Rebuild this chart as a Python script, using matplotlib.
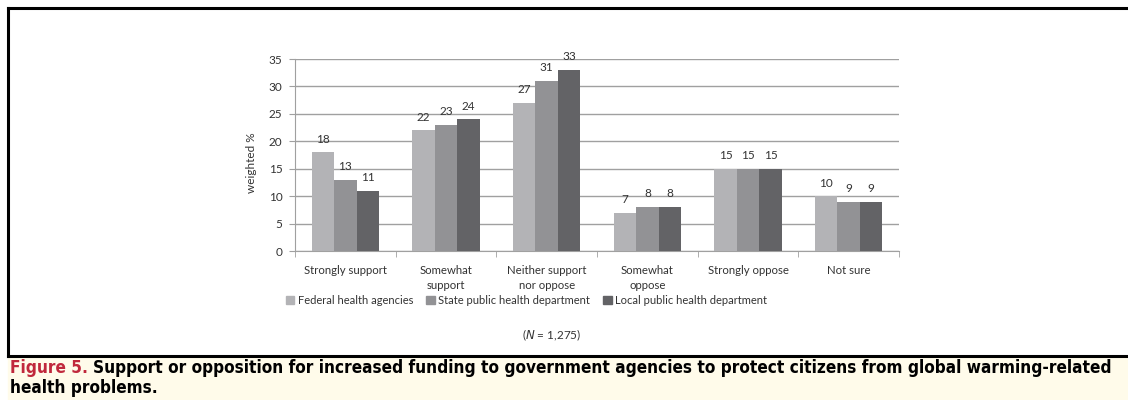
import matplotlib.pyplot as plt
import numpy as np
from matplotlib.patches import Rectangle
from matplotlib.lines import Line2D

categories = ["Strongly support", "Somewhat\nsupport", "Neither support\nnor oppose",
              "Somewhat\noppose", "Strongly oppose", "Not sure"]
federal = [18, 22, 27, 7, 15, 10]
state = [13, 23, 31, 8, 15, 9]
local = [11, 24, 33, 8, 15, 9]
series_names = ["Federal health agencies", "State public health department",
                "Local public health department"]
colors = ["#b3b3b6", "#929295", "#636366"]
txt = '#333333'

plt.rcParams['font.family'] = ['Lato', 'DejaVu Sans']

fig = plt.figure(figsize=(11.28, 4.0), dpi=100)
ax = fig.add_axes([295 / 1128, 149 / 400, 604 / 1128, 192 / 400])

x = np.arange(len(categories))
w = 0.224
for i, vals in enumerate([federal, state, local]):
    bars = ax.bar(x + (i - 1) * w, vals, w, color=colors[i], zorder=3, label=series_names[i])
    for b, v in zip(bars, vals):
        ax.annotate(str(v), (b.get_x() + b.get_width() / 2, v), xytext=(0, 5.5),
                    textcoords='offset points', ha='center', va='bottom',
                    fontsize=8.5, color=txt)

ax.set_xlim(-0.5, len(categories) - 0.5)
ax.set_ylim(0, 35)
ax.set_yticks(range(0, 36, 5))
ax.yaxis.grid(True, color='#a0a0a0', linewidth=1, zorder=0)
ax.set_xticks(x)
ax.set_xticklabels(categories, fontsize=8.2, color=txt, linespacing=1.45)
ax.set_xticks(np.arange(-0.5, len(categories)), minor=True)
ax.tick_params(axis='x', which='major', length=0, pad=10)
ax.tick_params(axis='x', which='minor', length=4, color='#a0a0a0', direction='out')
ax.tick_params(axis='y', length=4, color='#a0a0a0', labelsize=8.5, labelcolor=txt, pad=5)
for s in ['top', 'right']:
    ax.spines[s].set_visible(False)
for s in ['left', 'bottom']:
    ax.spines[s].set_color('#a0a0a0')
ax.set_ylabel("weighted %", fontsize=8.5, color=txt)
ax.yaxis.set_label_coords(-0.063, 0.46)

handles = [Rectangle((0, 0), 1, 1, color=c) for c in colors]
leg = fig.legend(handles, series_names, loc='center left',
                 bbox_to_anchor=(286 / 1128, 1 - 300 / 400),
                 ncol=3, frameon=False, fontsize=8, handlelength=0.75, handleheight=0.75,
                 handletextpad=0.3, columnspacing=1.2, borderaxespad=0, borderpad=0)
for t in leg.get_texts():
    t.set_color(txt)

fig.text(552 / 1128, 1 - 335 / 400, r"($\it{N}$ = 1,275)", ha='center', va='center',
         fontsize=8.5, color=txt)

# frame and caption band
fig.patches.append(Rectangle((8 / 1128, 0), 1, 44 / 400, transform=fig.transFigure,
                             color='#fffbea', zorder=0))
fig.lines.append(Line2D([8 / 1128, 1], [1 - 8 / 400] * 2, transform=fig.transFigure,
                        color='black', linewidth=2.2))
fig.lines.append(Line2D([8 / 1128] * 2, [1 - 8 / 400, 44 / 400], transform=fig.transFigure,
                        color='black', linewidth=2.2))
fig.lines.append(Line2D([8 / 1128, 1], [44 / 400] * 2, transform=fig.transFigure,
                        color='black', linewidth=2.2))

cap = dict(ha='left', va='center', fontsize=12.3, fontweight='bold',
           family=['DejaVu Sans'], fontstretch='condensed')
red = fig.text(10 / 1128, 1 - 368 / 400, "Figure 5.", color='#c0283c', **cap)
fig.canvas.draw()
bb = red.get_window_extent()
fig.text((bb.x1 + 5) / 1128, 1 - 368 / 400,
         "Support or opposition for increased funding to government agencies to protect "
         "citizens from global warming-related", color='black', **cap)
fig.text(10 / 1128, 1 - 388 / 400, "health problems.", color='black', **cap)

fig.savefig("out.png", dpi=100)
